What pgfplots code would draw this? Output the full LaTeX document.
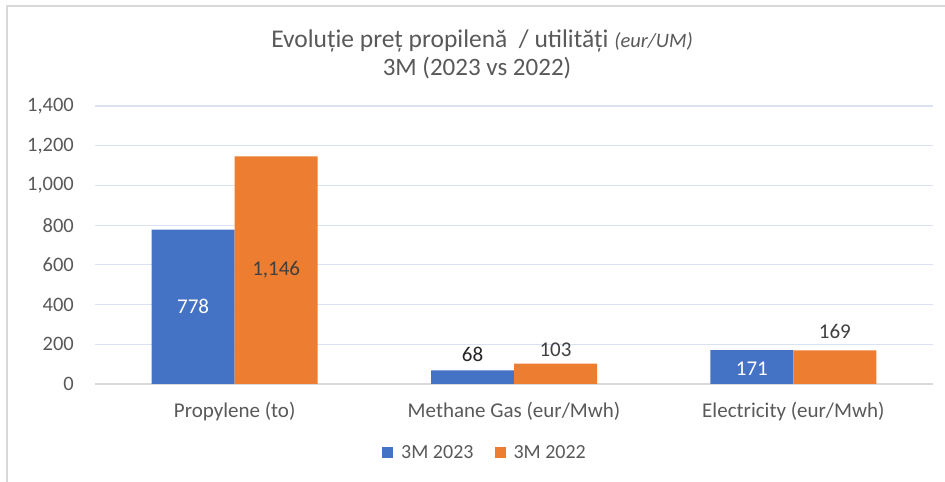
\documentclass[border=0pt]{standalone}
\usepackage{pgfplots}
\pgfplotsset{compat=1.18}
\usepackage{fontspec}
\setmainfont{Carlito}
\definecolor{cblue}{HTML}{4472C4}
\definecolor{corange}{HTML}{ED7D31}
\definecolor{txt}{HTML}{595959}
\definecolor{dark}{HTML}{404040}
\definecolor{gridc}{HTML}{D9E1F2}
\definecolor{framec}{HTML}{D9D9D9}
\begin{document}
\begin{tikzpicture}[x=1bp,y=1bp]
\path[use as bounding box, fill=white] (0,0) rectangle (945,482);
\draw[framec, line width=1.5bp] (7,0) -- (7,476) -- (945,476);
\node[anchor=base, text=txt, inner sep=0pt, font=\fontsize{25.5bp}{30bp}\selectfont] at (482,434) {Evoluție preț propilenă \ / utilități {\fontsize{20.5bp}{24bp}\selectfont\itshape (eur/UM)}};
\node[anchor=base, text=txt, inner sep=0pt, font=\fontsize{25bp}{30bp}\selectfont] at (477,406) {3M (2023 vs 2022)};
\begin{axis}[
  at={(95bp,98bp)}, anchor=south west,
  scale only axis, width=838bp, height=278bp,
  xmin=-0.5, xmax=2.5, ymin=0, ymax=1400,
  xtick={0,1,2},
  xticklabels={Propylene (to), Methane Gas (eur/Mwh), Electricity (eur/Mwh)},
  ytick={0,200,...,1400},
  ymajorgrids, grid style={gridc, line width=1.2bp},
  extra y ticks={0}, extra y tick labels={},
  extra y tick style={grid style={framec, line width=1.5bp}},
  axis line style={draw=none},
  major tick length=0pt,
  /pgf/number format/.cd, 1000 sep={,}, assume math mode=true, /pgfplots/.cd,
  tick label style={text=txt},
  yticklabel style={anchor=east, inner sep=0pt, xshift=-21bp, font=\fontsize{20.5bp}{24bp}\selectfont},
  xticklabel style={anchor=base, inner sep=0pt, yshift=-33.5bp, font=\fontsize{21bp}{25bp}\selectfont},
  legend style={at={(0.466,-0.248)}, anchor=center, draw=none, fill=none, legend columns=2,
    font=\fontsize{20bp}{24bp}\selectfont, text=txt,
    nodes={inner xsep=3bp},
    /tikz/every odd column/.append style={column sep=5bp},
    /tikz/every even column/.append style={column sep=18bp}},
  legend image code/.code={\fill[#1] (0bp,-5.5bp) rectangle (11bp,5.5bp);},
]
\addplot[ybar, bar width=83bp, bar shift=-41.5bp, fill=cblue, draw=none] coordinates {(0,778) (1,68) (2,171)};
\addlegendentry{3M 2023}
\addplot[ybar, bar width=83bp, bar shift=41.5bp, fill=corange, draw=none] coordinates {(0,1146) (1,103) (2,169)};
\addlegendentry{3M 2022}
% data labels
\addplot[draw=none, mark=none, forget plot, nodes near coords, point meta=explicit symbolic,
  every node near coord/.append style={anchor=center, xshift=-41.5bp, text=white, font=\fontsize{21bp}{25bp}\selectfont}]
  coordinates {(0,389) [778] (2,79) [171]};
\addplot[draw=none, mark=none, forget plot, nodes near coords, point meta=explicit symbolic,
  every node near coord/.append style={anchor=center, xshift=41.5bp, text=dark, font=\fontsize{21bp}{25bp}\selectfont}]
  coordinates {(0,574) [1{,}146] (1,171) [103] (2,263) [169]};
\addplot[draw=none, mark=none, forget plot, nodes near coords, point meta=explicit symbolic,
  every node near coord/.append style={anchor=center, xshift=-41.5bp, text=black!85, font=\fontsize{21bp}{25bp}\selectfont}]
  coordinates {(1,151) [68]};
\end{axis}
\end{tikzpicture}
\end{document}
